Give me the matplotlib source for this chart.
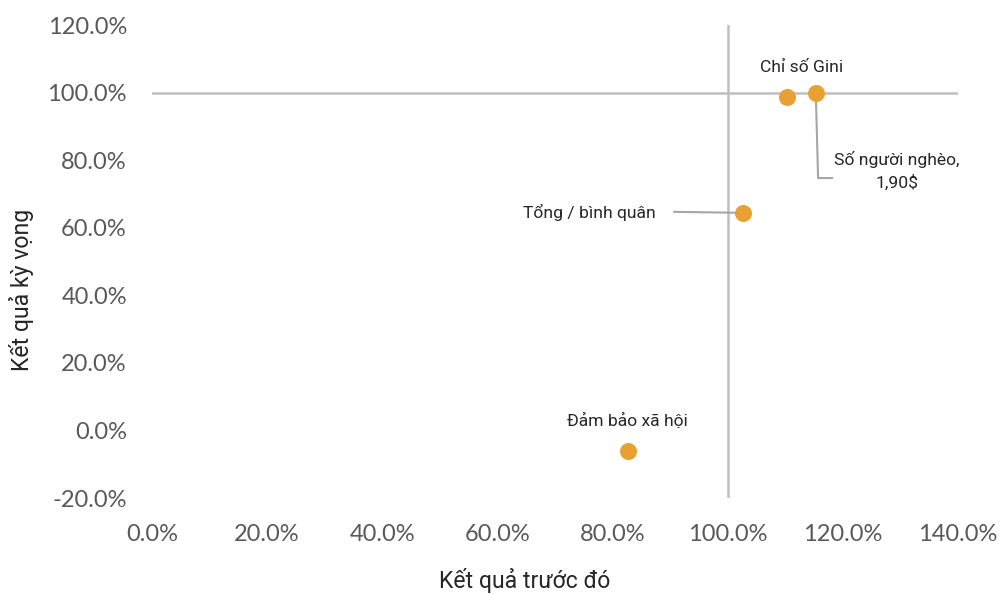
import matplotlib
matplotlib.use("Agg")
import matplotlib.pyplot as plt
from matplotlib.ticker import FuncFormatter

# Indicator results: previous vs expected
labels = ["Chỉ số Gini", "Số người nghèo,\n1,90$", "Tổng / bình quân", "Đảm bảo xã hội"]
previous = [1.103, 1.153, 1.027, 0.827]
expected = [0.987, 0.999, 0.644, -0.060]

x_ticks = [0.0, 0.2, 0.4, 0.6, 0.8, 1.0, 1.2, 1.4]
y_ticks = [-0.2, 0.0, 0.2, 0.4, 0.6, 0.8, 1.0, 1.2]

fig = plt.figure(figsize=(10, 5.94), dpi=100)
ax = fig.add_axes([0.152, 0.1616, 0.806, 0.7963])

ax.set_xlim(0.0, 1.4)
ax.set_ylim(-0.2, 1.2)
for s in ax.spines.values():
    s.set_visible(False)

# reference cross at 100% / 100%
ax.axvline(1.0, color="#BFBFBF", lw=1.8, zorder=1)
ax.axhline(1.0, color="#BFBFBF", lw=1.8, zorder=1)

ax.set_xticks(x_ticks)
ax.set_yticks(y_ticks)
fmt = FuncFormatter(lambda v, p: f"{v*100:.1f}%")
ax.xaxis.set_major_formatter(fmt)
ax.yaxis.set_major_formatter(fmt)
ax.tick_params(axis="both", length=0, labelsize=17, labelcolor="#595959")
ax.tick_params(axis="x", pad=19)
ax.tick_params(axis="y", pad=18)
for t in ax.get_xticklabels() + ax.get_yticklabels():
    t.set_fontfamily("Lato")

ax.scatter(previous, expected, s=150, color="#E8A033", zorder=3, linewidths=0)

lead = dict(color="#A6A6A6", lw=1.5, zorder=2)
txt = dict(fontsize=12.6, color="#262626", family="Roboto")

# Chỉ số Gini
ax.text(1.129, 1.073, labels[0], ha="center", va="center", **txt)
# Số người nghèo, 1,90$
ax.plot([previous[1], 1.157, 1.181], [expected[1], 0.747, 0.747], **lead)
ax.text(1.294, 0.768, labels[1], ha="center", va="center", linespacing=1.5, **txt)
# Tổng / bình quân
ax.plot([0.907, previous[2]], [expected[2] + 0.003, expected[2]], **lead)
ax.text(0.875, 0.644, labels[2], ha="right", va="center", **txt)
# Đảm bảo xã hội
ax.text(0.825, 0.029, labels[3], ha="center", va="center", **txt)

fig.text(0.525, 0.022, "Kết quả trước đó", ha="center", va="center",
         fontsize=16.6, color="#262626", family="Roboto")
fig.text(0.022, 0.512, "Kết quả kỳ vọng", ha="center", va="center", rotation=90,
         fontsize=16.6, color="#262626", family="Roboto")

fig.savefig("out.png", dpi=100, facecolor="white")
